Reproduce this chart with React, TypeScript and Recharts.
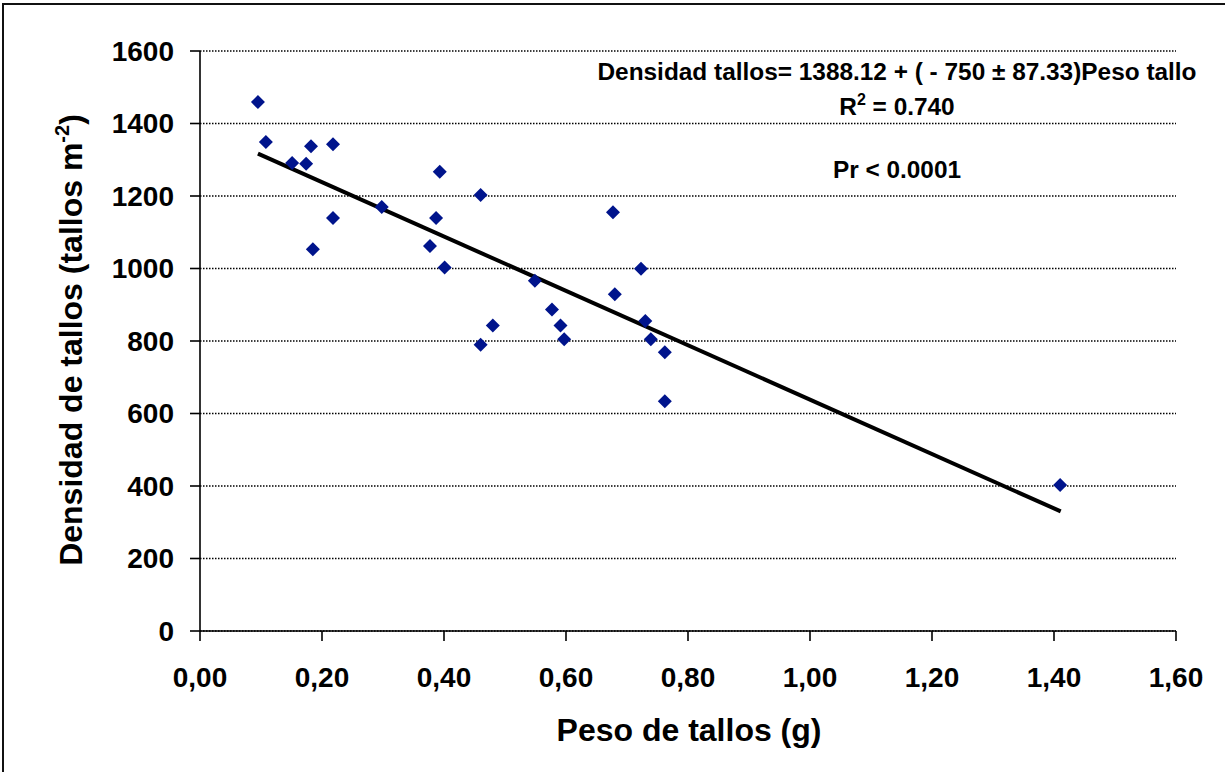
import React from 'react';
import { ScatterChart, Scatter, XAxis, YAxis, CartesianGrid } from 'recharts';

// Peso de tallos (g)
const pesoTallo = [
  0.095, 0.108, 0.151, 0.174, 0.182, 0.218, 0.185, 0.218, 0.298, 0.377,
  0.387, 0.393, 0.401, 0.460, 0.460, 0.480, 0.549, 0.577, 0.591, 0.597,
  0.677, 0.680, 0.723, 0.730, 0.739, 0.762, 0.762, 1.410,
];
// Densidad de tallos (tallos m-2)
const densidadTallos = [
  1459, 1349, 1291, 1289, 1337, 1343, 1053, 1139, 1170, 1062,
  1139, 1267, 1003, 1203, 790, 843, 966, 887, 843, 805,
  1155, 929, 999, 855, 805, 769, 634, 403,
];
// Regression line end points
const trendX = [0.095, 1.411];
const trendY = [1317, 330];

const xTicks = [0, 0.2, 0.4, 0.6, 0.8, 1.0, 1.2, 1.4, 1.6];
const yTicks = [0, 200, 400, 600, 800, 1000, 1200, 1400, 1600];

const points = pesoTallo.map((x, i) => ({ x, y: densidadTallos[i] }));
const trend = trendX.map((x, i) => ({ x, y: trendY[i] }));

const FONT = '"Liberation Sans", Arial, Helvetica, sans-serif';
const MARK = '#00148C';

const Diamond = (props: any) => {
  const { cx, cy } = props;
  if (cx == null || cy == null) return <g />;
  const r = 7;
  return (
    <polygon
      points={`${cx},${cy - r} ${cx + r},${cy} ${cx},${cy + r} ${cx - r},${cy}`}
      fill={MARK}
    />
  );
};

const NoDot = () => <g />;

const fmtX = (v: number) => v.toFixed(2).replace('.', ',');

export default function App() {
  return (
    <div style={{ position: 'absolute', left: 0, top: 0, width: 1225, height: 772, background: '#fff', overflow: 'hidden' }}>
      <div
        style={{
          position: 'absolute',
          left: 2,
          top: 3,
          width: 1300,
          height: 900,
          borderLeft: '2.5px solid #111',
          borderTop: '2.5px solid #111',
        }}
      />
      <div style={{ position: 'absolute', left: 0, top: 0 }}>
        <ScatterChart
          width={1225}
          height={772}
          margin={{ top: 51, right: 49, bottom: 91, left: 80 }}
        >
          <CartesianGrid
            horizontal={true}
            vertical={false}
            stroke="#000"
            strokeWidth={1.3}
            strokeDasharray="1.5 1.5"
          />
          <XAxis
            type="number"
            dataKey="x"
            domain={[0, 1.6]}
            ticks={xTicks}
            tickFormatter={fmtX}
            height={50}
            tickSize={10}
            tickMargin={26}
            axisLine={{ stroke: '#000', strokeWidth: 1.6 }}
            tickLine={{ stroke: '#000', strokeWidth: 1.6 }}
            tick={{ fill: '#000', fontSize: 28, fontWeight: 'bold', fontFamily: FONT }}
            interval={0}
            allowDataOverflow
          />
          <YAxis
            type="number"
            dataKey="y"
            domain={[0, 1600]}
            ticks={yTicks}
            width={120}
            tickSize={10}
            tickMargin={16}
            axisLine={{ stroke: '#000', strokeWidth: 1.6 }}
            tickLine={{ stroke: '#000', strokeWidth: 1.6 }}
            tick={{ fill: '#000', fontSize: 28, fontWeight: 'bold', fontFamily: FONT }}
            interval={0}
            allowDataOverflow
          />
          <Scatter
            data={trend}
            line={{ stroke: '#000', strokeWidth: 4 }}
            shape={NoDot}
            isAnimationActive={false}
          />
          <Scatter data={points} shape={Diamond} isAnimationActive={false} />
        </ScatterChart>
      </div>
      <svg
        width={1225}
        height={772}
        style={{ position: 'absolute', left: 0, top: 0, pointerEvents: 'none' }}
        fontFamily={FONT}
        fontWeight="bold"
        fill="#000"
      >
        <text x={897} y={80} textAnchor="middle" fontSize={24.4}>
          Densidad tallos= 1388.12 + ( - 750 ± 87.33)Peso tallo
        </text>
        <text x={897} y={115} textAnchor="middle" fontSize={24.4}>
          R<tspan dy={-10} fontSize={16}>2</tspan>
          <tspan dy={10}> = 0.740</tspan>
        </text>
        <text x={897} y={178} textAnchor="middle" fontSize={24.4}>
          Pr &lt; 0.0001
        </text>
        <text x={689} y={741} textAnchor="middle" fontSize={32}>
          Peso de tallos (g)
        </text>
        <text x={82} y={340} textAnchor="middle" fontSize={32} transform="rotate(-90, 82, 340)">
          Densidad de tallos (tallos m<tspan dy={-13} fontSize={20}>-2</tspan>
          <tspan dy={13}>)</tspan>
        </text>
      </svg>
    </div>
  );
}
